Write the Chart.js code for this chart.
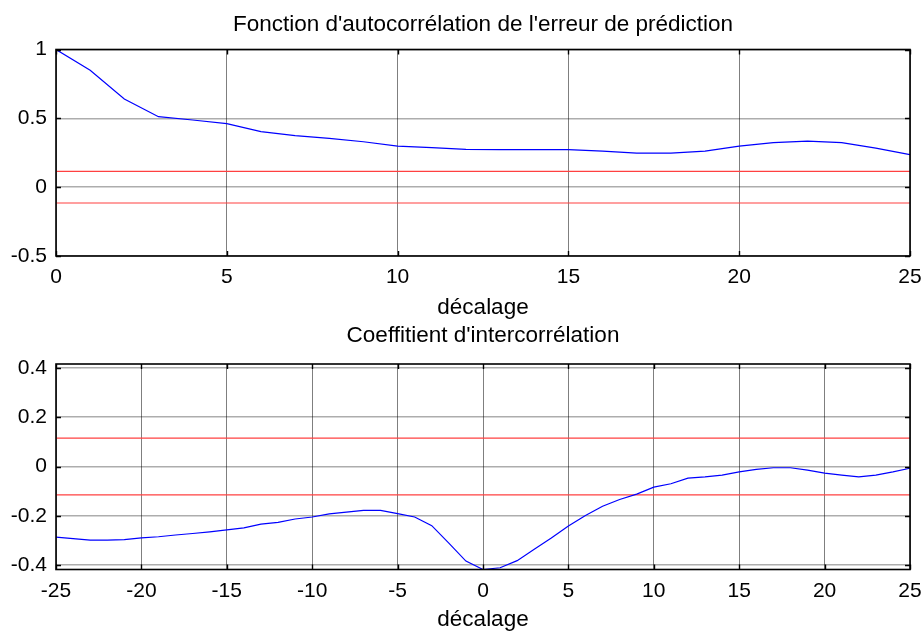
<!DOCTYPE html>
<html>
<head>
<meta charset="utf-8">
<script src="https://cdn.jsdelivr.net/npm/chart.js@4/dist/chart.umd.min.js"></script>
<style>
  html, body { margin: 0; padding: 0; background: #fff; }
  #wrapTop { position: absolute; left: 0; top: 0; width: 924px; height: 322px; }
  #wrapBottom { position: absolute; left: 0; top: 322px; width: 924px; height: 311px; }
</style>
</head>
<body>
<div id="wrapTop"><canvas id="acfChart" width="924" height="322"></canvas></div>
<div id="wrapBottom"><canvas id="xcorrChart" width="924" height="311"></canvas></div>
<script>
// Texts
const acfTitle = "Fonction d'autocorrélation de l'erreur de prédiction";
const xcorrTitle = "Coeffitient d'intercorrélation";
const lagLabel = "décalage";

// Autocorrelation of the prediction error, lags 0..25
const acfLags = [0, 1, 2, 3, 4, 5, 6, 7, 8, 9, 10, 11, 12, 13, 14, 15, 16, 17, 18, 19, 20, 21, 22, 23, 24, 25];
const acfValues = [1.000, 0.849, 0.640, 0.512, 0.488, 0.461, 0.403, 0.374, 0.354, 0.330, 0.298, 0.287, 0.274,
                   0.272, 0.272, 0.272, 0.262, 0.247, 0.247, 0.262, 0.298, 0.323, 0.335, 0.323, 0.284, 0.236];

// Cross-correlation coefficient, lags -25..25
const xcorrLags = [-25, -24, -23, -22, -21, -20, -19, -18, -17, -16, -15, -14, -13, -12, -11, -10, -9, -8, -7, -6,
                   -5, -4, -3, -2, -1, 0, 1, 2, 3, 4, 5, 6, 7, 8, 9, 10, 11, 12, 13, 14, 15, 16, 17, 18, 19, 20,
                   21, 22, 23, 24, 25];
const xcorrValues = [-0.287, -0.293, -0.299, -0.299, -0.297, -0.290, -0.285, -0.278, -0.272, -0.265, -0.257,
                     -0.249, -0.234, -0.227, -0.213, -0.205, -0.192, -0.185, -0.178, -0.178, -0.191, -0.205,
                     -0.240, -0.311, -0.384, -0.418, -0.411, -0.382, -0.336, -0.290, -0.241, -0.199, -0.161,
                     -0.134, -0.112, -0.084, -0.070, -0.047, -0.042, -0.035, -0.022, -0.012, -0.005, -0.005,
                     -0.015, -0.027, -0.035, -0.042, -0.035, -0.022, -0.007];

// 95% confidence bound drawn as two horizontal lines
const confidenceBound = 0.115;

// Axis ranges
const acfXRange = [0, 25];
const acfYRange = [-0.5, 1];
const xcorrXRange = [-25, 25];
const xcorrYRange = [-0.418, 0.416];

const FONT = "'Liberation Sans', Arial, Helvetica, sans-serif";

// Box around the plot area plus small inward tick marks on all four sides
const frameAndTicks = {
  id: 'frameAndTicks',
  afterDraw(chart) {
    const { ctx, chartArea: a, scales: { x, y } } = chart;
    ctx.save();
    ctx.strokeStyle = '#000';
    ctx.lineWidth = 1.6;
    ctx.strokeRect(a.left, a.top, a.right - a.left, a.bottom - a.top);
    ctx.lineWidth = 1.4;
    const L = 5;
    ctx.beginPath();
    x.ticks.forEach(t => {
      const px = Math.round(x.getPixelForValue(t.value)) + 0.5;
      ctx.moveTo(px, a.top); ctx.lineTo(px, a.top + L);
      ctx.moveTo(px, a.bottom); ctx.lineTo(px, a.bottom - L);
    });
    y.ticks.forEach(t => {
      const py = Math.round(y.getPixelForValue(t.value)) + 0.5;
      ctx.moveTo(a.left, py); ctx.lineTo(a.left + L, py);
      ctx.moveTo(a.right, py); ctx.lineTo(a.right - L, py);
    });
    ctx.stroke();
    ctx.restore();
  }
};

function toPoints(xs, ys) {
  return xs.map((v, i) => ({ x: v, y: ys[i] }));
}

function boundLine(xs, value) {
  return [{ x: xs[0], y: value }, { x: xs[xs.length - 1], y: value }];
}

// Short number format: 1, 0.5, -0.2 ...
const shortNumber = v => String(Math.round(v * 1000) / 1000);

function makeChart(canvasId, cfg) {
  return new Chart(document.getElementById(canvasId), {
    type: 'line',
    data: {
      datasets: [
        { data: toPoints(cfg.lags, cfg.values), borderColor: '#0000ff', borderWidth: 1.2,
          pointRadius: 0, tension: 0, fill: false },
        { data: boundLine(cfg.lags, confidenceBound), borderColor: '#ff4040', borderWidth: 1.2,
          pointRadius: 0, fill: false },
        { data: boundLine(cfg.lags, -confidenceBound), borderColor: '#ff4040', borderWidth: 1.2,
          pointRadius: 0, fill: false }
      ]
    },
    options: {
      responsive: false,
      animation: false,
      events: [],
      layout: { padding: { left: 0, right: 14, top: 0, bottom: 0 } },
      plugins: {
        legend: { display: false },
        tooltip: { enabled: false },
        title: {
          display: true,
          fullSize: false,
          text: cfg.title,
          color: '#000',
          font: { family: FONT, size: 22.5, weight: 'normal' },
          padding: cfg.titlePadding
        }
      },
      scales: {
        x: {
          type: 'linear',
          min: cfg.xRange[0],
          max: cfg.xRange[1],
          afterFit: s => { s.height = cfg.xHeight; s.paddingLeft = 0; s.paddingRight = 0; },
          border: { display: false },
          grid: { color: 'rgba(0,0,0,0.5)', lineWidth: 1, drawTicks: false },
          ticks: { stepSize: 5, color: '#000', padding: 9, maxRotation: 0,
                   callback: shortNumber, font: { family: FONT, size: 21 } },
          title: { display: true, text: lagLabel, color: '#000',
                   font: { family: FONT, size: 22.5 }, padding: cfg.xTitlePadding }
        },
        y: {
          type: 'linear',
          min: cfg.yRange[0],
          max: cfg.yRange[1],
          afterFit: s => { s.width = 56; },
          border: { display: false },
          grid: { color: 'rgba(0,0,0,0.32)', lineWidth: 1.5, drawTicks: false },
          ticks: { stepSize: cfg.yStep, includeBounds: false, color: '#000', padding: 9,
                   callback: shortNumber, font: { family: FONT, size: 21 } }
        }
      }
    },
    plugins: [frameAndTicks]
  });
}

makeChart('acfChart', {
  title: acfTitle,
  lags: acfLags,
  values: acfValues,
  xRange: acfXRange,
  yRange: acfYRange,
  yStep: 0.5,
  titlePadding: { top: 11.5, bottom: 11 },
  xHeight: 66,
  xTitlePadding: { top: 0, bottom: 0.6 }
});

makeChart('xcorrChart', {
  title: xcorrTitle,
  lags: xcorrLags,
  values: xcorrValues,
  xRange: xcorrXRange,
  yRange: xcorrYRange,
  yStep: 0.2,
  titlePadding: { top: 0.6, bottom: 14.4 },
  xHeight: 63.5,
  xTitlePadding: { top: 0, bottom: 0 }
});
</script>
</body>
</html>
